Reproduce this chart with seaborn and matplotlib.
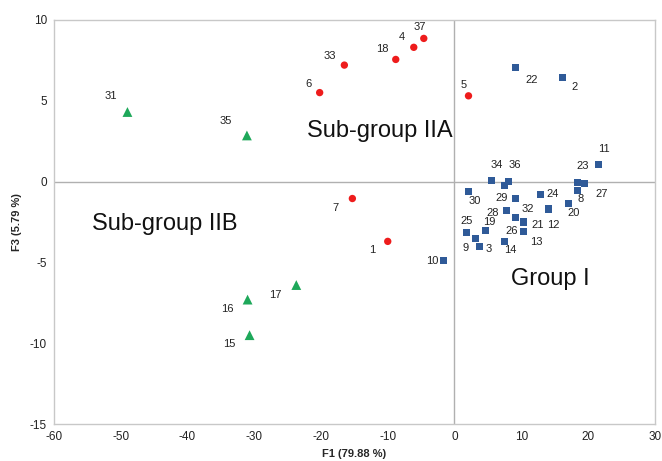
import matplotlib
matplotlib.use("Agg")
import matplotlib.pyplot as plt
import seaborn as sns
import pandas as pd

# sample ids, PCA scores (F1, F3) and cluster group
sample_ids = [37, 4, 18, 33, 6, 5, 7, 1,
              31, 35, 17, 16, 15,
              22, 2, 11, 23, 27, 8, 20, 12, 24, 21, 13, 32, 29, 28,
              26, 14, 19, 25, 9, 3, 30, 34, 36, 10]
f1_scores = [-4.6, -6.1, -8.8, -16.5, -20.2, 2.1, -15.3, -10.0,
             -49.0, -31.1, -23.7, -31.0, -30.7,
             9.1, 16.2, 21.6, 18.4, 19.5, 18.4, 17.1, 14.1, 12.9, 10.3, 10.3, 9.1, 7.5, 7.8,
             9.1, 7.5, 4.6, 1.8, 3.1, 3.7, 2.1, 5.5, 8.1, -1.6]
f3_scores = [8.85, 8.3, 7.55, 7.2, 5.5, 5.3, -1.05, -3.7,
             4.3, 2.85, -6.4, -7.3, -9.5,
             7.05, 6.45, 1.05, -0.05, -0.1, -0.55, -1.35, -1.7, -0.8, -2.5, -3.1, -1.05, -0.25, -1.8,
             -2.2, -3.7, -3.0, -3.15, -3.5, -4.0, -0.6, 0.06, 0.0, -4.9]
groups = ["IIA"] * 8 + ["IIB"] * 5 + ["I"] * 24

# label offsets in pixels (dx, dy) relative to marker
label_offsets = {37: (-4, 11), 4: (-12, 10), 18: (-13, 10), 33: (-15, 9), 6: (-11, 9),
                 5: (-5, 11), 7: (-17, -9), 1: (-16, -9),
                 31: (-17, 16), 35: (-21, 14), 17: (-21, -10), 16: (-20, -9), 15: (-20, -9),
                 22: (16, -12), 2: (12, -10), 11: (5, 16), 23: (5, 16), 27: (17, -11),
                 8: (3, -9), 20: (5, -10), 12: (5, -16), 24: (12, 0), 21: (14, -3),
                 13: (13, -10), 32: (13, -10), 29: (-3, -12), 28: (-14, -2), 26: (-4, -14),
                 14: (6, -9), 19: (4, 8), 25: (0, 11), 9: (-10, -10), 3: (10, -3),
                 30: (6, -10), 34: (6, 16), 36: (6, 17), 10: (-12, 0)}

df = pd.DataFrame({"id": sample_ids, "F1": f1_scores, "F3": f3_scores, "group": groups})

sns.set_style("white")
plt.rcParams['font.family'] = ['Liberation Sans', 'DejaVu Sans']
plt.rcParams['axes.unicode_minus'] = False

fig = plt.figure(figsize=(6.62, 4.61), dpi=100)
ax = fig.add_axes([0.0816, 0.080, 0.9074, 0.877])

ax.axhline(0, color='#b0b0b0', lw=1, zorder=1)
ax.axvline(0, color='#b0b0b0', lw=1, zorder=1)

palette = {"IIA": "#ee1c1c", "IIB": "#1ea85a", "I": "#2f5a98"}
markers = {"IIA": "o", "IIB": "^", "I": "s"}
sizes = {"IIA": 28, "IIB": 50, "I": 26}
for g in ["IIA", "IIB", "I"]:
    sub = df[df.group == g]
    sns.scatterplot(data=sub, x="F1", y="F3", color=palette[g], marker=markers[g],
                    s=sizes[g], edgecolor='none', ax=ax, zorder=3, legend=False)

for _, row in df.iterrows():
    dx, dy = label_offsets[row.id]
    ax.annotate(str(row.id), (row.F1, row.F3), xytext=(dx, dy), textcoords='offset pixels',
                ha='center', va='center', fontsize=8, color='#222222')

ax.text(-11.2, 3.1, "Sub-group IIA", fontsize=17, ha='center', va='center', color='#111111')
ax.text(-43.4, -2.65, "Sub-group IIB", fontsize=17, ha='center', va='center', color='#111111')
ax.text(14.4, -6.05, "Group I", fontsize=17, ha='center', va='center', color='#111111')

ax.set_xlim(-60, 30)
ax.set_ylim(-15, 10)
ax.set_xticks(range(-60, 31, 10))
ax.set_yticks(range(-15, 11, 5))
ax.tick_params(labelsize=8.5, length=0, pad=5, colors='#222222')
ax.set_xlabel("F1 (79.88 %)", fontsize=8, fontweight='bold', labelpad=4)
ax.set_ylabel("F3 (5.79 %)", fontsize=8, fontweight='bold', labelpad=6)
for sp in ax.spines.values():
    sp.set_color('#c8c8c8')
    sp.set_linewidth(1)

fig.savefig("out.png", dpi=100)
